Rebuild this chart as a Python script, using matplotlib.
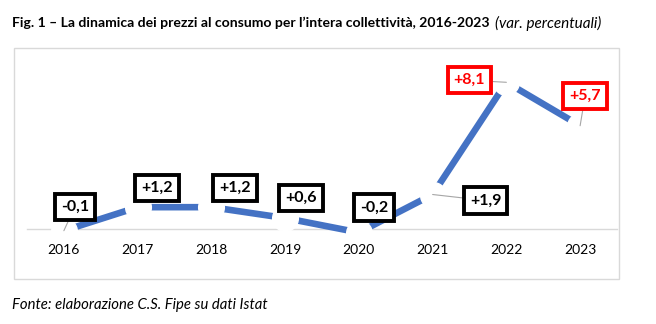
import matplotlib
matplotlib.use("Agg")
import matplotlib.pyplot as plt
from matplotlib.patches import Rectangle

plt.rcParams['font.family'] = ['Lato', 'DejaVu Sans']

# consumer price change, % per year
years = ['2016', '2017', '2018', '2019', '2020', '2021', '2022', '2023']
values = [-0.1, 1.2, 1.2, 0.6, -0.2, 1.9, 8.1, 5.7]
labels = ['-0,1', '+1,2', '+1,2', '+0,6', '-0,2', '+1,9', '+8,1', '+5,7']

# label offsets (pixels) from each point, and which labels get a leader line
offsets = [(11, 24), (19, 19), (24, 19), (16, 20), (15, 25), (53, -6), (-37, 2), (5, 30)]
leaders = [True, False, False, False, False, True, True, True]
highlight = ['2022', '2023']

W, H = 656, 324
fig = plt.figure(figsize=(W / 100, H / 100), dpi=100)

# outer frame of the chart
fig.patches.append(Rectangle((14 / W, 1 - 279 / H), 605 / W, 231 / H,
                             transform=fig.transFigure, fill=False,
                             edgecolor='#D9D9D9', linewidth=1.0))

ax = fig.add_axes([27 / W, 1 - 247 / H, 590 / W, 181 / H])
ax.set_xlim(-0.5, len(years) - 0.5)
ax.set_ylim(-1, 9)

x = list(range(len(years)))
ax.plot(x, values, color='#4472C4', linewidth=4.75, solid_capstyle='butt', zorder=1.3)
# white dots break the line (and the zero axis) around each point
ax.plot(x, values, linestyle='none', marker='o', markersize=18.5,
        markerfacecolor='white', markeredgecolor='white', zorder=1.5)

for i, (v, lab) in enumerate(zip(values, labels)):
    col = 'red' if years[i] in highlight else 'black'
    arrow = dict(arrowstyle='-', color='#A6A6A6', lw=0.8, shrinkA=0, shrinkB=0) if leaders[i] else None
    ax.annotate(lab, (i, v), xytext=offsets[i], textcoords='offset pixels',
                ha='center', va='center', fontsize=11.5, fontweight='bold', color=col,
                bbox=dict(boxstyle='square,pad=0.38', facecolor='white',
                          edgecolor=col, linewidth=2.8),
                arrowprops=arrow, zorder=5)

ax.set_xticks(x)
ax.set_xticklabels(years, fontsize=11.2, color='#222222')
ax.tick_params(axis='x', length=0, pad=11)
ax.xaxis.set_zorder(2.5)
ax.set_yticks([])
for s in ['left', 'right', 'top']:
    ax.spines[s].set_visible(False)
ax.spines['bottom'].set_position(('data', 0))
ax.spines['bottom'].set_color('#D9D9D9')
ax.spines['bottom'].set_linewidth(1.0)
ax.spines['bottom'].set_zorder(1.2)
ax.patch.set_visible(False)

fig.text(12 / W, 1 - 23 / H,
         'Fig. 1 – La dinamica dei prezzi al consumo per l’intera collettività, 2016-2023',
         fontsize=10.1, fontweight='bold', va='center', ha='left')
fig.text(495 / W, 1 - 23 / H, '(var. percentuali)',
         fontsize=11, fontstyle='italic', va='center', ha='left')
fig.text(12 / W, 1 - 305 / H, 'Fonte: elaborazione C.S. Fipe su dati Istat',
         fontsize=10.7, fontstyle='italic', va='center', ha='left')

fig.savefig('out.png', dpi=100, facecolor='white')
